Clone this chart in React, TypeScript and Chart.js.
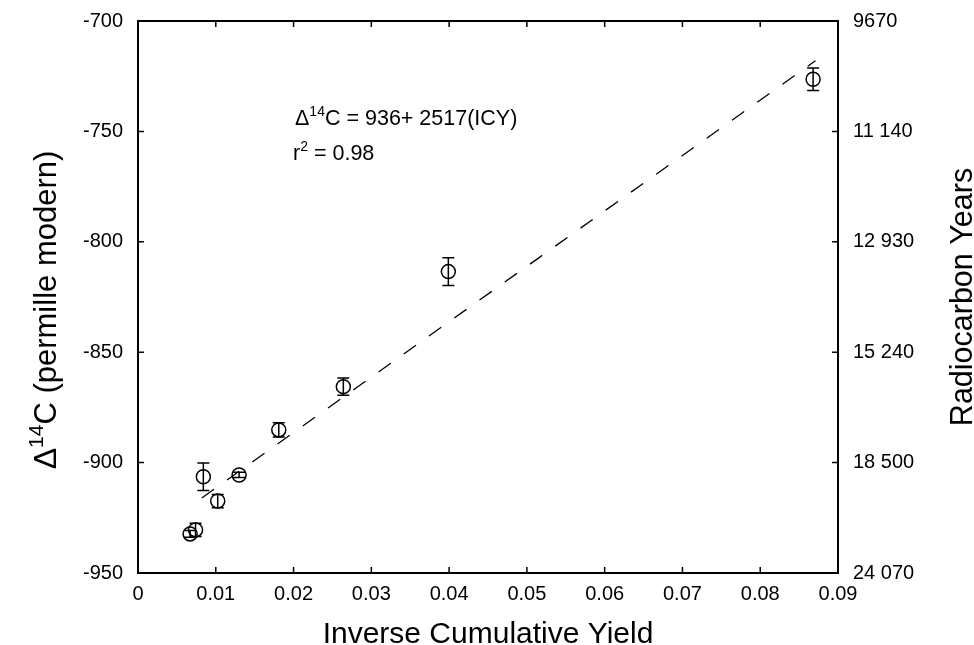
import React, { useEffect, useRef } from "react";
import { Chart, registerables } from "chart.js";

Chart.register(...registerables);

const icyValues = [0.0067, 0.0074, 0.0084, 0.01025, 0.013, 0.0181, 0.0264, 0.0399, 0.0868];
const deltaValues = [-932.3, -930.5, -906.4, -917.4, -905.6, -885.2, -865.6, -813.5, -726.4];
const deltaErrors = [1.5, 3, 6.2, 3, 1.2, 3.2, 3.9, 6.3, 5.1];

const fitIcy = [0.0082, 0.0871];
const fitDelta = [-916, -718];

const xTickValues = [0, 0.01, 0.02, 0.03, 0.04, 0.05, 0.06, 0.07, 0.08, 0.09];
const xTickLabels = ["0", "0.01", "0.02", "0.03", "0.04", "0.05", "0.06", "0.07", "0.08", "0.09"];
const yTickValues = [-950, -900, -850, -800, -750, -700];
const yTickLabels = ["-950", "-900", "-850", "-800", "-750", "-700"];
const radiocarbonLabels = ["24 070", "18 500", "15 240", "12 930", "11 140", "9670"];

const FONT = "'Liberation Sans', Arial, Helvetica, sans-serif";

type Part = { t: string; size: number; dy: number };

function drawRich(ctx: CanvasRenderingContext2D, parts: Part[], x: number, y: number, align: "left" | "center") {
  let total = 0;
  for (const p of parts) {
    ctx.font = `${p.size}px ${FONT}`;
    total += ctx.measureText(p.t).width;
  }
  let cx = align === "center" ? x - total / 2 : x;
  ctx.textAlign = "left";
  ctx.textBaseline = "alphabetic";
  for (const p of parts) {
    ctx.font = `${p.size}px ${FONT}`;
    ctx.fillText(p.t, cx, y + p.dy);
    cx += ctx.measureText(p.t).width;
  }
}

const decorPlugin = {
  id: "decor",
  afterDatasetsDraw(chart: any) {
    const ctx = chart.ctx as CanvasRenderingContext2D;
    const xs = chart.scales.x;
    const ys = chart.scales.y;
    ctx.save();
    ctx.strokeStyle = "#000";
    ctx.lineWidth = 1.5;
    for (let i = 0; i < icyValues.length; i++) {
      const px = xs.getPixelForValue(icyValues[i]);
      const y1 = ys.getPixelForValue(deltaValues[i] + deltaErrors[i]);
      const y2 = ys.getPixelForValue(deltaValues[i] - deltaErrors[i]);
      ctx.beginPath();
      ctx.moveTo(px, y1);
      ctx.lineTo(px, y2);
      ctx.moveTo(px - 6, y1);
      ctx.lineTo(px + 6, y1);
      ctx.moveTo(px - 6, y2);
      ctx.lineTo(px + 6, y2);
      ctx.stroke();
    }
    ctx.restore();
  },
  afterDraw(chart: any) {
    const ctx = chart.ctx as CanvasRenderingContext2D;
    const { left, right, top, bottom } = chart.chartArea;
    const xs = chart.scales.x;
    const ys = chart.scales.y;
    ctx.save();
    ctx.strokeStyle = "#000";
    ctx.lineWidth = 1.5;
    ctx.beginPath();
    for (const v of xTickValues) {
      const px = xs.getPixelForValue(v);
      ctx.moveTo(px, bottom);
      ctx.lineTo(px, bottom - 6);
      ctx.moveTo(px, top);
      ctx.lineTo(px, top + 6);
    }
    for (const v of yTickValues) {
      const py = ys.getPixelForValue(v);
      ctx.moveTo(left, py);
      ctx.lineTo(left + 6, py);
      ctx.moveTo(right, py);
      ctx.lineTo(right - 6, py);
    }
    ctx.stroke();
    ctx.lineWidth = 2;
    ctx.strokeRect(left, top, right - left, bottom - top);

    ctx.fillStyle = "#000";
    // annotation
    drawRich(ctx, [
      { t: "\u0394", size: 21.5, dy: 0 },
      { t: "14", size: 14, dy: -9 },
      { t: "C = 936+ 2517(ICY)", size: 21.5, dy: 0 },
    ], 295, 125, "left");
    drawRich(ctx, [
      { t: "r", size: 21.5, dy: 0 },
      { t: "2", size: 14, dy: -9 },
      { t: " = 0.98", size: 21.5, dy: 0 },
    ], 293, 160, "left");

    // bottom title
    drawRich(ctx, [{ t: "Inverse Cumulative Yield", size: 30, dy: 0 }], (left + right) / 2, 643, "center");

    // left title
    ctx.save();
    ctx.translate(56, 310);
    ctx.rotate(-Math.PI / 2);
    drawRich(ctx, [
      { t: "\u0394", size: 32, dy: 0 },
      { t: "14", size: 21, dy: -13 },
      { t: "C (permille modern)", size: 31, dy: 0 },
    ], 0, 0, "center");
    ctx.restore();

    // right title
    ctx.save();
    ctx.translate(972, 297);
    ctx.rotate(-Math.PI / 2);
    drawRich(ctx, [{ t: "Radiocarbon Years", size: 30.5, dy: 0 }], 0, 0, "center");
    ctx.restore();
    ctx.restore();
  },
};

export default function App() {
  const ref = useRef<HTMLCanvasElement | null>(null);
  useEffect(() => {
    if (!ref.current) return;
    const tickFont = { family: FONT, size: 20 };
    const chart = new Chart(ref.current, {
      type: "scatter",
      data: {
        datasets: [
          {
            label: "fit",
            type: "line",
            data: fitIcy.map((x, i) => ({ x, y: fitDelta[i] })),
            borderColor: "#000",
            borderWidth: 1.3,
            borderDash: [15, 16],
            pointRadius: 0,
            fill: false,
            order: 2,
          } as any,
          {
            label: "samples",
            data: icyValues.map((x, i) => ({ x, y: deltaValues[i] })),
            pointStyle: "circle",
            pointRadius: 7,
            pointBorderWidth: 1.5,
            borderColor: "#000",
            backgroundColor: "rgba(0,0,0,0)",
            showLine: false,
            order: 1,
          },
        ],
      },
      options: {
        animation: false,
        responsive: false,
        devicePixelRatio: 1,
        layout: { padding: { top: 21, left: 0, right: 0, bottom: 0 } },
        plugins: { legend: { display: false }, tooltip: { enabled: false } },
        scales: {
          x: {
            type: "linear",
            position: "bottom",
            min: 0,
            max: 0.09,
            grid: { display: false, drawTicks: false },
            border: { display: false },
            ticks: {
              stepSize: 0.01,
              autoSkip: false,
              maxRotation: 0,
              padding: 9,
              color: "#000",
              font: tickFont,
              callback: (_v: any, i: number) => xTickLabels[i],
            },
            afterFit: (s: any) => { s.height = 72; s.paddingLeft = 0; s.paddingRight = 0; },
          },
          y: {
            type: "linear",
            position: "left",
            min: -950,
            max: -700,
            grid: { display: false, drawTicks: false },
            border: { display: false },
            ticks: {
              stepSize: 50,
              padding: 15,
              color: "#000",
              font: tickFont,
              callback: (_v: any, i: number) => yTickLabels[i],
            },
            afterFit: (s: any) => { s.width = 138; s.paddingTop = 0; s.paddingBottom = 0; },
          },
          y2: {
            type: "linear",
            position: "right",
            min: -950,
            max: -700,
            grid: { display: false, drawTicks: false },
            border: { display: false },
            ticks: {
              stepSize: 50,
              padding: 15,
              color: "#000",
              font: tickFont,
              callback: (_v: any, i: number) => radiocarbonLabels[i],
            },
            afterFit: (s: any) => { s.width = 136; s.paddingTop = 0; s.paddingBottom = 0; },
          },
        },
      },
      plugins: [decorPlugin],
    } as any);
    return () => chart.destroy();
  }, []);
  return (
    <div style={{ position: "fixed", left: 0, top: 0, width: 974, height: 645, background: "#fff" }}>
      <canvas ref={ref} width={974} height={645} />
    </div>
  );
}
